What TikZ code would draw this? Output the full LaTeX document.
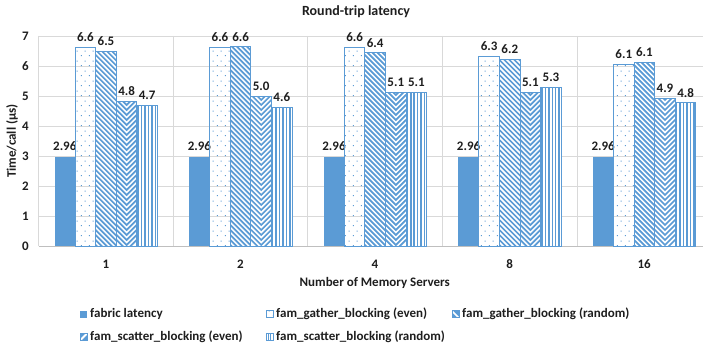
\documentclass[tikz,border=0pt]{standalone}
\usepackage{fontspec}
\setmainfont{Carlito}
\usetikzlibrary{patterns}

\definecolor{barblue}{RGB}{91,155,213}
\definecolor{gridgray}{RGB}{217,217,217}
\definecolor{axisgray}{RGB}{191,191,191}
\definecolor{txt}{RGB}{30,30,30}

\pgfdeclarepatternformonly{mydots}{\pgfpointorigin}{\pgfpoint{8pt}{10pt}}{\pgfpoint{8pt}{10pt}}{
  \pgfpathrectangle{\pgfpoint{1pt}{1pt}}{\pgfpoint{1.1pt}{1.1pt}}
  \pgfpathrectangle{\pgfpoint{5pt}{6pt}}{\pgfpoint{1.1pt}{1.1pt}}
  \pgfusepath{fill}}

\tikzset{
  lbl/.style={font=\bfseries\fontsize{13}{13}\selectfont, text=txt, inner sep=0pt},
  solidbar/.style={fill=barblue},
  outl/.style={draw=barblue, line width=1pt},
  dotbar/.style={fill=white, pattern=mydots, pattern color=barblue},
  stripe/.style={draw=barblue, line width=1.7pt},
  grid/.style={draw=gridgray, line width=0.8pt},
}

% manual pattern macros: #1 = left x, #2 = right x, #3 = top y (screen coords, base 246)
\newcommand{\diagbox}[3]{%
  \begin{scope}
    \clip (#1,246) rectangle (#2,#3);
    \fill[white] (#1,246) rectangle (#2,#3);
    \foreach \k in {-44,...,6} {\draw[stripe] ({#1+5*\k},30) -- ++(222,222);}
  \end{scope}
  \draw[outl] (#1,246) rectangle (#2,#3);}
\newcommand{\zigbox}[3]{%
  \begin{scope}
    \clip (#1,246) rectangle (#2,#3);
    \fill[white] (#1,246) rectangle (#2,#3);
    \pgfmathsetmacro{\hw}{(#2-#1)/2}
    \foreach \k in {0,...,44} {
      \draw[stripe, line width=1.7pt, line join=miter] (#1,{250-5*\k-\hw}) -- ({#1+\hw},{250-5*\k}) -- (#2,{250-5*\k-\hw});}
  \end{scope}
  \draw[outl] (#1,246) rectangle (#2,#3);}
\newcommand{\vertbox}[3]{%
  \begin{scope}
    \clip (#1,246) rectangle (#2,#3);
    \fill[white] (#1,246) rectangle (#2,#3);
    \foreach \k in {0,...,6} {\draw[stripe, line width=1.5pt] ({#1+1.2+3.45*\k},30) -- ++(0,220);}
  \end{scope}
  \draw[outl] (#1,246) rectangle (#2,#3);}

\begin{document}
\begin{tikzpicture}[x=1pt,y=-1pt]
\useasboundingbox (0,0) rectangle (703,347);
\fill[white] (0,0) rectangle (703,347);

% title
\node[lbl, font=\bfseries\fontsize{14}{14}\selectfont] (title) at (356,12) {Round-trip latency};

% horizontal grid
\foreach \k in {1,...,7} {
  \draw[grid] (38.5,{246-30*\k}) -- (703,{246-30*\k});
  \node[lbl, anchor=east] (yt\k) at (29,{246-30*\k}) {\k};
}
\node[lbl, anchor=east] (yt0) at (29,246) {0};
% vertical grid
\foreach \i in {0,...,4} {
  \draw[grid] ({38.5+134.6*\i},36) -- ({38.5+134.6*\i},246);
}
\draw[draw=axisgray, line width=0.8pt] (38.5,246) -- (703,246);

% axis titles
\node[lbl, rotate=90] (ytitle) at (12,141) {Time/call (μs)};
\node[lbl] (xtitle) at (374.7,283) {Number of Memory Servers};

% bars
\foreach \c/\cl/\a/\la/\b/\lb/\d/\ld/\e/\le in {
  0/1/6.62/6.6/6.48/6.5/4.82/4.8/4.68/4.7,
  1/2/6.62/6.6/6.64/6.6/4.98/5.0/4.62/4.6,
  2/4/6.62/6.6/6.44/6.4/5.12/5.1/5.12/5.1,
  3/8/6.32/6.3/6.22/6.2/5.12/5.1/5.28/5.3,
  4/16/6.06/6.1/6.12/6.1/4.92/4.9/4.78/4.8} {
  \pgfmathsetmacro{\L}{38.5+134.6*\c+16}
  \pgfmathsetmacro{\w}{20.6}
  % fabric
  \fill[solidbar] (\L,246) rectangle ({\L+\w},{246-30*2.96});
  \node[lbl] (f\c) at ({\L+\w/2},{246-30*2.96-11}) {2.96};
  % gather even
  \path[dotbar] ({\L+\w},246) rectangle ({\L+2*\w},{246-30*\a});
  \draw[outl] ({\L+\w},246) rectangle ({\L+2*\w},{246-30*\a});
  \node[lbl] (ge\c) at ({\L+1.5*\w},{246-30*\a-10}) {\la};
  % gather random
  \pgfmathsetmacro{\xa}{\L+2*\w}\pgfmathsetmacro{\xb}{\L+3*\w}\pgfmathsetmacro{\yt}{246-30*\b}
  \diagbox{\xa}{\xb}{\yt}
  \node[lbl] (gr\c) at ({\L+2.5*\w},{246-30*\b-10}) {\lb};
  % scatter even
  \pgfmathsetmacro{\xa}{\L+3*\w}\pgfmathsetmacro{\xb}{\L+4*\w}\pgfmathsetmacro{\yt}{246-30*\d}
  \zigbox{\xa}{\xb}{\yt}
  \node[lbl] (se\c) at ({\L+3.5*\w},{246-30*\d-10}) {\ld};
  % scatter random
  \pgfmathsetmacro{\xa}{\L+4*\w}\pgfmathsetmacro{\xb}{\L+5*\w}\pgfmathsetmacro{\yt}{246-30*\e}
  \vertbox{\xa}{\xb}{\yt}
  \node[lbl] (sr\c) at ({\L+4.5*\w},{246-30*\e-10}) {\le};
  % category label
  \node[lbl] (cat\c) at ({38.5+134.6*\c+67.3},264) {\cl};
}

% legend
\fill[solidbar] (80,310.5) rectangle (87,317.5);
\node[lbl, anchor=west] (lg1) at (90,314) {fabric latency};
\path[dotbar] (266,310.5) rectangle (273,317.5);
\draw[draw=barblue, line width=0.8pt] (266,310.5) rectangle (273,317.5);
\node[lbl, anchor=west] (lg2) at (276,314) {fam\_gather\_blocking (even)};
\begin{scope}
  \clip (452,310.5) rectangle (459,317.5);
  \fill[barblue] (452,310.5) rectangle (459,317.5);
  \draw[white, line width=1.5pt] (450,309) -- (461,320);
\end{scope}
\draw[draw=barblue, line width=0.8pt] (452,310.5) rectangle (459,317.5);
\node[lbl, anchor=west] (lg3) at (462,314) {fam\_gather\_blocking (random)};
\begin{scope}
  \clip (80,333.5) rectangle (87,340.5);
  \fill[barblue] (80,333.5) rectangle (87,340.5);
  \draw[white, line width=1.8pt] (79,341.5) -- (88,332.5);
\end{scope}
\draw[draw=barblue, line width=0.8pt] (80,333.5) rectangle (87,340.5);
\node[lbl, anchor=west] (lg4) at (90,337) {fam\_scatter\_blocking (even)};
\begin{scope}
  \clip (266,333.5) rectangle (273,340.5);
  \fill[white] (266,333.5) rectangle (273,340.5);
  \draw[barblue, line width=1.3pt] (268.3,333) -- (268.3,341) (270.7,333) -- (270.7,341);
\end{scope}
\draw[draw=barblue, line width=0.8pt] (266,333.5) rectangle (273,340.5);
\node[lbl, anchor=west] (lg5) at (276,337) {fam\_scatter\_blocking (random)};
\end{tikzpicture}
\end{document}
